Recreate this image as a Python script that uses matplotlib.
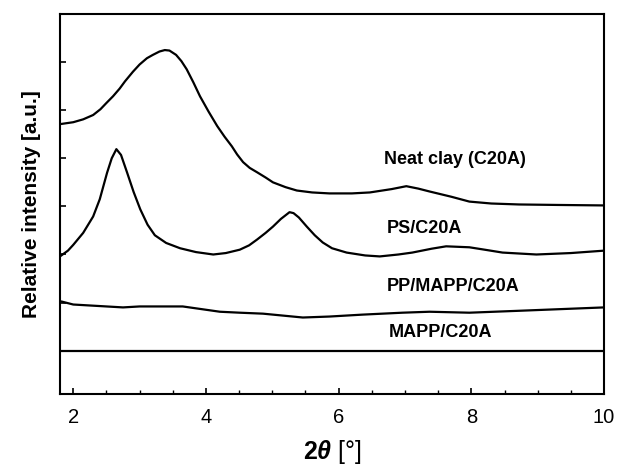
"""
Diffractogrammes XRD - argile C20A et composites
"""
import matplotlib
matplotlib.use('Agg')
import matplotlib.pyplot as plt
from matplotlib.ticker import MultipleLocator

plt.rcParams.update({
    'font.family': 'Liberation Sans',
    'mathtext.fontset': 'custom',
    'mathtext.bf': 'Liberation Sans:bold',
    'mathtext.it': 'Liberation Sans:italic:bold',
    'mathtext.rm': 'Liberation Sans',
})

# Neat clay (C20A)
clay_x = [1.80, 2.00, 2.15, 2.30, 2.41, 2.50, 2.60, 2.70, 2.78, 2.90, 3.00, 3.11,
          3.20, 3.30, 3.38, 3.45, 3.55, 3.63, 3.71, 3.81, 3.91, 4.04, 4.17, 4.28,
          4.39, 4.47, 4.56, 4.66, 4.77, 4.90, 5.01, 5.20, 5.37, 5.60, 5.86, 6.20,
          6.47, 6.80, 7.02, 7.20, 7.37, 7.70, 7.97, 8.30, 8.72, 9.30, 10.0]
clay_y = [5.71, 5.75, 5.81, 5.90, 6.02, 6.15, 6.29, 6.45, 6.60, 6.80, 6.95, 7.08,
          7.15, 7.22, 7.25, 7.24, 7.15, 7.02, 6.85, 6.58, 6.29, 5.97, 5.67, 5.45,
          5.25, 5.08, 4.92, 4.80, 4.71, 4.60, 4.50, 4.40, 4.33, 4.29, 4.27, 4.27,
          4.29, 4.36, 4.42, 4.37, 4.31, 4.20, 4.10, 4.06, 4.04, 4.03, 4.02]

# PS/C20A
ps_x = [1.82, 1.92, 2.00, 2.15, 2.30, 2.40, 2.51, 2.58, 2.65, 2.72, 2.81, 2.91,
        3.01, 3.12, 3.23, 3.40, 3.61, 3.85, 4.11, 4.30, 4.51, 4.65, 4.77, 4.90,
        5.01, 5.13, 5.26, 5.32, 5.40, 5.52, 5.64, 5.76, 5.90, 6.12, 6.40, 6.62,
        6.90, 7.11, 7.40, 7.62, 7.97, 8.20, 8.47, 8.98, 9.50, 10.0]
ps_y = [2.98, 3.08, 3.20, 3.45, 3.79, 4.15, 4.70, 5.00, 5.19, 5.07, 4.71, 4.30,
        3.94, 3.62, 3.40, 3.24, 3.13, 3.05, 3.00, 3.03, 3.10, 3.19, 3.31, 3.45,
        3.58, 3.74, 3.88, 3.86, 3.77, 3.58, 3.40, 3.25, 3.13, 3.04, 2.98, 2.96,
        3.00, 3.04, 3.12, 3.17, 3.15, 3.10, 3.04, 3.00, 3.03, 3.08]

# PP/MAPP/C20A
pp_x = [1.83, 2.00, 2.75, 3.00, 3.65, 4.21, 4.51, 4.86, 5.46, 5.86, 6.36, 6.96,
        7.37, 7.97, 8.72, 10.0]
pp_y = [2.02, 1.96, 1.90, 1.92, 1.92, 1.81, 1.79, 1.77, 1.69, 1.71, 1.75, 1.79,
        1.81, 1.79, 1.83, 1.90]

# MAPP/C20A
mapp_x = [1.80, 10.0]
mapp_y = [1.00, 1.00]

labels = ['Neat clay (C20A)', 'PS/C20A', 'PP/MAPP/C20A', 'MAPP/C20A']
label_x = [6.69, 6.72, 6.72, 6.75]
label_y = [4.98, 3.54, 2.33, 1.38]

fig = plt.figure(figsize=(6.17, 4.71), dpi=100)
ax = fig.add_axes([0.0972, 0.1635, 0.8818, 0.8068])

for xs, ys in [(clay_x, clay_y), (ps_x, ps_y), (pp_x, pp_y), (mapp_x, mapp_y)]:
    ax.plot(xs, ys, color='black', linewidth=1.6, solid_joinstyle='round')

for lab, lx, ly in zip(labels, label_x, label_y):
    ax.text(lx, ly, lab, fontsize=13, fontweight='bold', va='center', ha='left')

ax.set_xlim(1.8, 10)
ax.set_ylim(0.1, 8.0)
ax.xaxis.set_major_locator(MultipleLocator(2))
ax.xaxis.set_minor_locator(MultipleLocator(0.5))
ax.set_yticks(range(1, 8))
ax.set_yticklabels([])
ax.tick_params(axis='x', which='major', direction='in', length=4.5, width=1.2,
               labelsize=14.5, pad=10)
ax.tick_params(axis='x', which='minor', direction='in', length=3, width=1.0)
ax.tick_params(axis='y', which='major', direction='in', length=4, width=1.2)
for sp in ax.spines.values():
    sp.set_linewidth(1.5)

ax.set_xlabel(r'$\mathbf{2}\mathit{\theta}$ [°]', fontsize=18, labelpad=8)
ax.set_ylabel('Relative intensity [a.u.]', fontsize=15, fontweight='bold', labelpad=10)

fig.savefig('out.png', dpi=100)
plt.close(fig)
